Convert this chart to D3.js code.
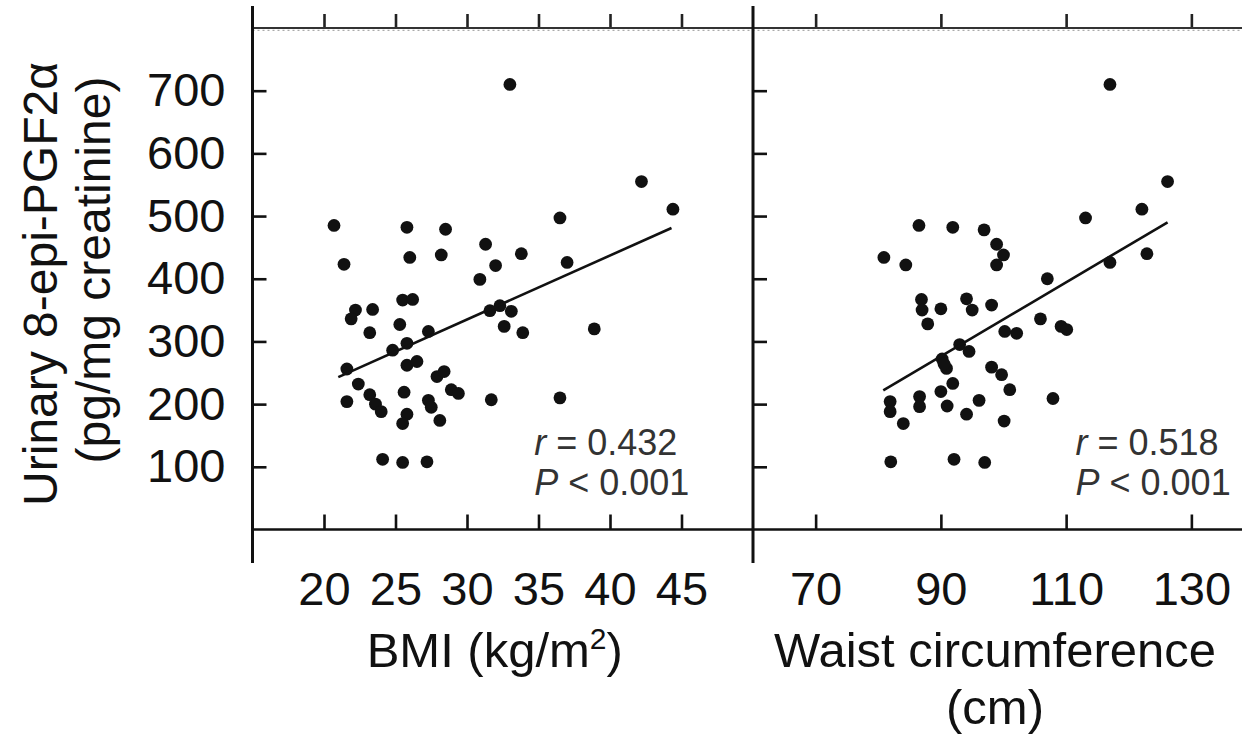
<!DOCTYPE html>
<html>
<head>
<meta charset="utf-8">
<script src="https://cdn.jsdelivr.net/npm/d3@7"></script>
<style>
  body { margin: 0; background: #fff; }
  svg { display: block; }
  text { font-family: "Liberation Sans", Arial, Helvetica, sans-serif; fill: #111; }
  .stat { font-size: 36px; fill: #333; }
</style>
</head>
<body>
<script>
// values
var bmiX = [33.0, 42.2, 44.4, 20.7, 21.4, 25.8, 26.0, 28.5, 28.2, 31.3, 32.0, 30.9, 33.8, 36.5, 37.0,
            25.5, 26.2, 22.2, 21.9, 23.4, 25.3, 23.2, 27.3, 25.8, 24.8, 21.6, 25.8, 26.5, 27.9, 28.4,
            28.9, 29.4, 22.4, 23.2, 23.6, 24.0, 21.6, 25.6, 27.3, 27.5, 25.8, 25.5, 28.1, 31.7, 36.5,
            38.9, 32.6, 33.9, 31.6, 32.3, 33.1, 24.1, 25.5, 27.2];
var bmiY = [710, 555, 511, 485, 423, 482, 434, 479, 438, 455, 421, 399, 440, 497, 426,
            366, 367, 350, 336, 351, 327, 314, 316, 297, 286, 256, 262, 268, 244, 252,
            223, 217, 232, 215, 200, 188, 204, 219, 206, 195, 184, 169, 174, 207, 210,
            320, 324, 314, 349, 357, 348, 112, 107, 108];

var waistX = [117.0, 126.2, 122.1, 113.1, 86.5, 91.9, 96.9, 98.9, 100.0, 98.9, 80.9, 84.4, 107.0, 117.0, 122.9,
              86.9, 87.0, 90.0, 87.9, 94.1, 95.0, 98.1, 100.2, 102.1, 105.9, 109.2, 110.1,
              93.0, 94.5, 90.2, 90.9, 90.5, 98.1, 99.7, 101.0, 91.9, 90.0, 96.1, 91.0,
              86.6, 86.6, 81.9, 81.9, 84.0, 94.1, 100.1, 107.9, 82.0, 92.1, 97.0];
var waistY = [710, 555, 511, 497, 485, 482, 478, 455, 438, 422, 434, 422, 400, 426, 440,
              367, 350, 352, 328, 368, 350, 358, 316, 313, 336, 324, 319,
              295, 284, 272, 257, 264, 259, 247, 223, 233, 220, 206, 197,
              212, 196, 204, 188, 169, 184, 173, 209, 108, 112, 107];

// regression lines (end points as drawn)
var bmiFit = [[21.0, 243], [44.3, 481]];
var waistFit = [[80.8, 222], [126.2, 490]];

var yTicks = [100, 200, 300, 400, 500, 600, 700];
var bmiTicks = [20, 25, 30, 35, 40, 45];
var waistTicks = [70, 90, 110, 130];

var stats = [["0.432", "0.001"], ["0.518", "0.001"]];

var width = 1242, height = 736;

var svg = d3.select("body").append("svg")
  .attr("width", width)
  .attr("height", height);

var y = d3.scaleLinear().domain([0, 800]).range([529.5, 28]);
var xBmi = d3.scaleLinear().domain([15, 50]).range([252.5, 753]);
var xWaist = d3.scaleLinear().domain([60, 140]).range([753, 1254]);

var panels = [
  {x: xBmi, xs: bmiX, ys: bmiY, fit: bmiFit, ticks: bmiTicks, stat: stats[0], statX: 34.7},
  {x: xWaist, xs: waistX, ys: waistY, fit: waistFit, ticks: waistTicks, stat: stats[1], statX: 111.5}
];

panels.forEach(function(p, i){
  var g = svg.append("g");

  // left y ticks pointing in
  var yAx = d3.axisLeft(y).tickValues(yTicks).tickSize(-14).tickPadding(27);
  if (i == 1) yAx.tickFormat("");
  var ya = g.append("g").attr("transform", "translate(" + p.x.range()[0] + ",0)").call(yAx);
  ya.select(".domain").remove();
  ya.selectAll("line").attr("stroke", "#111").attr("stroke-width", 2.6);
  ya.selectAll("text").style("font-size", "47px").attr("fill", "#111");

  // bottom x ticks pointing up
  var xa = g.append("g").attr("transform", "translate(0," + y(0) + ")")
    .call(d3.axisBottom(p.x).tickValues(p.ticks).tickSize(-15).tickPadding(42));
  xa.select(".domain").remove();
  xa.selectAll("line").attr("stroke", "#111").attr("stroke-width", 2.6);
  xa.selectAll("text").style("font-size", "47px").attr("fill", "#111");

  // top x ticks pointing out
  var ta = g.append("g").attr("transform", "translate(0," + y(800) + ")")
    .call(d3.axisTop(p.x).tickValues(p.ticks).tickSize(14).tickFormat(""));
  ta.select(".domain").remove();
  ta.selectAll("line").attr("stroke", "#222").attr("stroke-width", 2.6);

  // points
  g.selectAll("circle")
    .data(p.xs)
    .enter()
    .append("circle")
    .attr("cx", d => p.x(d))
    .attr("cy", (d, j) => y(p.ys[j]))
    .attr("r", 6.4)
    .style("fill", "#111");

  g.append("line")
    .attr("x1", p.x(p.fit[0][0]))
    .attr("y1", y(p.fit[0][1]))
    .attr("x2", p.x(p.fit[1][0]))
    .attr("y2", y(p.fit[1][1]))
    .style("stroke", "#111")
    .style("stroke-width", 2.6);

  var st = g.append("text").attr("class", "stat")
    .attr("x", p.x(p.statX)).attr("y", y(119));
  st.append("tspan").style("font-style", "italic").text("r");
  st.append("tspan").text(" = " + p.stat[0]);
  var sp = g.append("text").attr("class", "stat")
    .attr("x", p.x(p.statX)).attr("y", y(55));
  sp.append("tspan").style("font-style", "italic").text("P");
  sp.append("tspan").text(" < " + p.stat[1]);
});

// frame
svg.append("line") // top border
  .attr("x1", xBmi(15)).attr("x2", width)
  .attr("y1", y(800)).attr("y2", y(800))
  .style("stroke", "#333").style("stroke-width", 2.2);
svg.append("line")
  .attr("x1", xBmi(15)).attr("x2", width)
  .attr("y1", y(800) + 2.4).attr("y2", y(800) + 2.4)
  .style("stroke", "#aaa").style("stroke-width", 1.2).style("stroke-dasharray", "2,3");
svg.append("line") // bottom axis
  .attr("x1", xBmi(15)).attr("x2", width)
  .attr("y1", y(0)).attr("y2", y(0))
  .style("stroke", "#111").style("stroke-width", 2.6);
[xBmi(15), xWaist(60)].forEach(function(xv){
  svg.append("line")
    .attr("x1", xv).attr("x2", xv)
    .attr("y1", 6).attr("y2", 563)
    .style("stroke", "#111").style("stroke-width", 3);
});

// axis titles
svg.append("text")
  .attr("x", (xBmi(15) + xBmi(50)) / 2 - 8).attr("y", 667)
  .attr("text-anchor", "middle").style("font-size", "49px")
  .text("BMI (kg/m")
  .append("tspan").attr("dy", -18).style("font-size", "30px").text("2")
  .select(function(){ return this.parentNode; })
  .append("tspan").attr("dy", 18).text(")");

svg.append("text")
  .attr("x", 995).attr("y", 667)
  .attr("text-anchor", "middle").style("font-size", "49px")
  .text("Waist circumference");
svg.append("text")
  .attr("x", 995).attr("y", 724)
  .attr("text-anchor", "middle").style("font-size", "49px")
  .text("(cm)");

svg.append("text")
  .attr("transform", "translate(57,284) rotate(-90)")
  .attr("text-anchor", "middle").style("font-size", "48px")
  .text("Urinary 8-epi-PGF2\u03b1");
svg.append("text")
  .attr("transform", "translate(110,270) rotate(-90)")
  .attr("text-anchor", "middle").style("font-size", "48px")
  .text("(pg/mg creatinine)");
</script>
</body>
</html>
